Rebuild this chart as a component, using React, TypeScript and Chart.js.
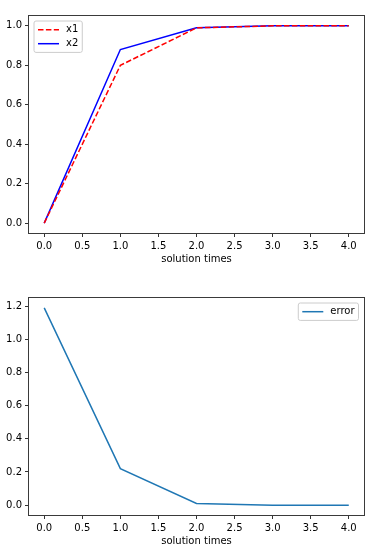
import React, { useEffect, useRef } from "react";
import { Chart, registerables } from "chart.js";

Chart.register(...registerables);

// ---- data ----
const times = [0, 1, 2, 3, 4];
const x1Values = [0, 0.8, 0.99, 1.0, 1.0];
const x2Values = [0, 0.88, 0.99, 1.0, 1.0];
const errorValues = [1.19, 0.22, 0.01, 0.0, 0.0];
const xTicks = [0, 0.5, 1, 1.5, 2, 2.5, 3, 3.5, 4];
const yTicksTop = [0, 0.2, 0.4, 0.6, 0.8, 1.0];
const yTicksBottom = [0, 0.2, 0.4, 0.6, 0.8, 1.0, 1.2];
const xLabel = "solution times";

const FONT = "'DejaVu Sans', sans-serif";

const framePlugin = {
  id: "mplFrame",
  afterDraw(chart: any) {
    const { ctx, chartArea: a } = chart;
    ctx.save();
    ctx.strokeStyle = "#3a3a3a";
    ctx.lineWidth = 1;
    ctx.strokeRect(Math.round(a.left) - 0.5, Math.round(a.top) - 0.5, Math.round(a.right - a.left) + 1, Math.round(a.bottom - a.top) + 1);
    ctx.restore();
  },
};

const legendPlugin = {
  id: "mplLegend",
  afterDraw(chart: any, _args: any, opts: any) {
    const { ctx, chartArea: a } = chart;
    const ds = chart.data.datasets;
    ctx.save();
    ctx.font = `10px ${FONT}`;
    let maxText = 0;
    ds.forEach((d: any) => (maxText = Math.max(maxText, ctx.measureText(d.label).width)));
    const padL = 4, lineLen = 21, gap = 7, padR = 4;
    const w = padL + lineLen + gap + maxText + padR;
    const h = 17.4 + 14 * (ds.length - 1);
    const left = opts.corner === "right" ? a.right - 5.5 - w : a.left + 5;
    const top = a.top + 5;
    const r = 2;
    ctx.beginPath();
    ctx.moveTo(left + r, top);
    ctx.lineTo(left + w - r, top);
    ctx.quadraticCurveTo(left + w, top, left + w, top + r);
    ctx.lineTo(left + w, top + h - r);
    ctx.quadraticCurveTo(left + w, top + h, left + w - r, top + h);
    ctx.lineTo(left + r, top + h);
    ctx.quadraticCurveTo(left, top + h, left, top + h - r);
    ctx.lineTo(left, top + r);
    ctx.quadraticCurveTo(left, top, left + r, top);
    ctx.closePath();
    ctx.fillStyle = "rgba(255,255,255,0.8)";
    ctx.fill();
    ctx.strokeStyle = "#cccccc";
    ctx.lineWidth = 1;
    ctx.stroke();
    ds.forEach((d: any, i: number) => {
      const cy = top + 8.7 + 14 * i;
      ctx.beginPath();
      ctx.setLineDash(d.borderDash || []);
      ctx.strokeStyle = d.borderColor;
      ctx.lineWidth = d.borderWidth;
      ctx.moveTo(left + padL, cy);
      ctx.lineTo(left + padL + lineLen, cy);
      ctx.stroke();
      ctx.setLineDash([]);
      ctx.fillStyle = "#000";
      ctx.textBaseline = "middle";
      ctx.textAlign = "left";
      ctx.fillText(d.label, left + padL + lineLen + gap, cy);
    });
    ctx.restore();
  },
};

function buildOptions(yMin: number, yMax: number, yTicks: number[], padTop: number, xHeight: number, titlePadBottom: number, corner: string) {
  return {
    responsive: false,
    animation: false as const,
    events: [],
    layout: { padding: { top: padTop, right: 11, left: 0, bottom: 0 } },
    plugins: {
      legend: { display: false },
      tooltip: { enabled: false },
      mplLegend: { corner },
    },
    scales: {
      x: {
        type: "linear" as const,
        min: -0.2,
        max: 4.2,
        afterBuildTicks: (s: any) => {
          s.ticks = xTicks.map((v) => ({ value: v }));
        },
        afterFit: (s: any) => {
          s.height = xHeight;
        },
        ticks: {
          autoSkip: false,
          maxRotation: 0,
          padding: 3,
          color: "#000",
          font: { family: FONT, size: 10 },
          callback: (v: any) => Number(v).toFixed(1),
        },
        grid: { drawOnChartArea: false, drawTicks: true, tickLength: 4, tickColor: "#333", tickWidth: 1 },
        border: { display: false },
        title: {
          display: true,
          text: xLabel,
          color: "#000",
          font: { family: FONT, size: 10 },
          padding: { top: 0, bottom: titlePadBottom },
        },
      },
      y: {
        type: "linear" as const,
        min: yMin,
        max: yMax,
        afterBuildTicks: (s: any) => {
          s.ticks = yTicks.map((v) => ({ value: v }));
        },
        afterFit: (s: any) => {
          s.width = 29;
        },
        ticks: {
          autoSkip: false,
          padding: 3,
          color: "#000",
          font: { family: FONT, size: 10 },
          callback: (v: any) => Number(v).toFixed(1),
        },
        grid: { drawOnChartArea: false, drawTicks: true, tickLength: 4, tickColor: "#333", tickWidth: 1 },
        border: { display: false },
      },
    },
  };
}

export default function App() {
  const topRef = useRef<HTMLCanvasElement>(null);
  const botRef = useRef<HTMLCanvasElement>(null);

  useEffect(() => {
    document.body.style.margin = "0";
    const top = new Chart(topRef.current!, {
      type: "line",
      data: {
        datasets: [
          {
            label: "x1",
            data: times.map((t, i) => ({ x: t, y: x1Values[i] })),
            borderColor: "#ff0000",
            borderWidth: 1.5,
            borderDash: [5.5, 2.4],
            pointRadius: 0,
            fill: false,
            tension: 0,
          },
          {
            label: "x2",
            data: times.map((t, i) => ({ x: t, y: x2Values[i] })),
            borderColor: "#0000ff",
            borderWidth: 1.5,
            pointRadius: 0,
            fill: false,
            tension: 0,
          },
        ],
      },
      options: buildOptions(-0.05, 1.05, yTicksTop, 16, 45, 13, "left") as any,
      plugins: [framePlugin, legendPlugin],
    });
    const bot = new Chart(botRef.current!, {
      type: "line",
      data: {
        datasets: [
          {
            label: "error",
            data: times.map((t, i) => ({ x: t, y: errorValues[i] })),
            borderColor: "#1f77b4",
            borderWidth: 1.5,
            pointRadius: 0,
            fill: false,
            tension: 0,
          },
        ],
      },
      options: buildOptions(-0.0595, 1.2495, yTicksBottom, 20, 41, 9, "right") as any,
      plugins: [framePlugin, legendPlugin],
    });
    return () => {
      top.destroy();
      bot.destroy();
    };
  }, []);

  return (
    <div style={{ position: "relative", width: 375, height: 556, background: "#fff" }}>
      <canvas ref={topRef} width={375} height={278} style={{ position: "absolute", left: 0, top: 0, width: 375, height: 278 }} />
      <canvas ref={botRef} width={375} height={278} style={{ position: "absolute", left: 0, top: 278, width: 375, height: 278 }} />
    </div>
  );
}
